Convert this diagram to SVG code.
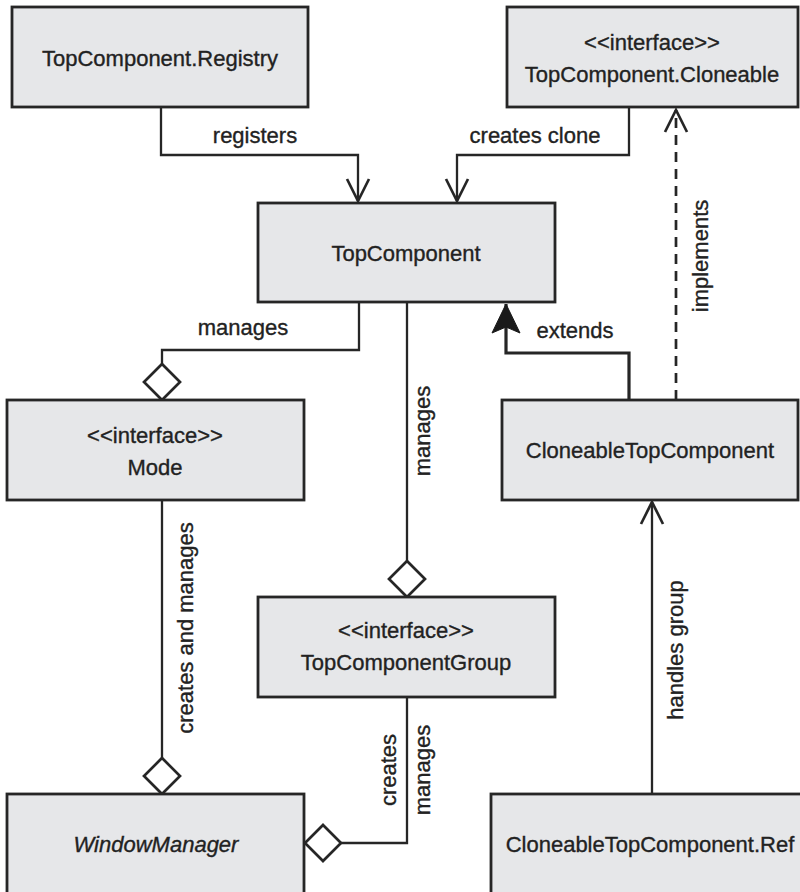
<svg xmlns="http://www.w3.org/2000/svg" width="800" height="892" viewBox="0 0 800 892">
<style>
.box{fill:#e6e7e9;stroke:#262626;stroke-width:2.8}
.t{font-family:"Liberation Sans",Arial,sans-serif;font-size:22px;fill:#222;stroke:#222;stroke-width:0.35;text-anchor:middle}
.it{font-style:italic}
.ln{fill:none;stroke:#262626;stroke-width:2.3}
.thick{stroke-width:3.2}
.dash{stroke-width:2.7;stroke-dasharray:10 7}
.open{marker-end:url(#open)}
.dia{marker-end:url(#diamond)}
.tri{marker-end:url(#tri)}
</style>
<defs>
<marker id="open" markerUnits="userSpaceOnUse" viewBox="-26 -14 30 28" refX="0" refY="0" markerWidth="30" markerHeight="28" orient="auto" overflow="visible">
<path d="M-22,-11 L0,0 L-22,11" fill="none" stroke="#262626" stroke-width="2.7" stroke-dasharray="none"/>
</marker>
<marker id="diamond" markerUnits="userSpaceOnUse" viewBox="-40 -20 42 40" refX="0" refY="0" markerWidth="42" markerHeight="40" orient="auto" overflow="visible">
<path d="M0,0 L-18,-18 L-36,0 L-18,18 Z" fill="#fff" stroke="#262626" stroke-width="2.7"/>
</marker>
<marker id="tri" markerUnits="userSpaceOnUse" viewBox="-32 -16 34 32" refX="0" refY="0" markerWidth="34" markerHeight="32" orient="auto" overflow="visible">
<path d="M0,0 L-29,-14 L-23,0 L-29,14 Z" fill="#1a1a1a" stroke="#1a1a1a" stroke-width="1"/>
</marker>
</defs>
<g id="connectors">
<path class="ln open" d="M161,107 V155 H358 V201"/>
<path class="ln open" d="M629,107 V155 H457 V201"/>
<path class="ln dash open" d="M676,400 V110"/>
<path class="ln dia" d="M359,302 V350 H162 V400"/>
<path class="ln thick tri" d="M629,400 V353 H506 V304"/>
<path class="ln dia" d="M407,302 V597"/>
<path class="ln dia" d="M162,500 V794"/>
<path class="ln dia" d="M407,697 V843 H305"/>
<path class="ln open" d="M652,794 V502"/>
<text class="t" x="255" y="143">registers</text>
<text class="t" x="535" y="143">creates clone</text>
<text class="t" x="243" y="335">manages</text>
<text class="t" x="575" y="338">extends</text>
<text class="t" transform="translate(708,256) rotate(-90)">implements</text>
<text class="t" transform="translate(430,431) rotate(-90)">manages</text>
<text class="t" transform="translate(193,628) rotate(-90)">creates and manages</text>
<text class="t" transform="translate(396,770) rotate(-90)">creates</text>
<text class="t" transform="translate(430,770) rotate(-90)">manages</text>
<text class="t" transform="translate(683,650) rotate(-90)">handles group</text>
</g>
<g id="registry">
<rect class="box" x="12" y="7" width="296" height="100"/>
<text class="t" x="160" y="66">TopComponent.Registry</text>
</g>
<g id="cloneable">
<rect class="box" x="507" y="7" width="291" height="100"/>
<text class="t" x="652" y="50">&lt;&lt;interface&gt;&gt;</text>
<text class="t" x="652" y="82">TopComponent.Cloneable</text>
</g>
<g id="topcomponent">
<rect class="box" x="258" y="203" width="297" height="99"/>
<text class="t" x="406" y="261">TopComponent</text>
</g>
<g id="mode">
<rect class="box" x="7" y="400" width="297" height="100"/>
<text class="t" x="155" y="443">&lt;&lt;interface&gt;&gt;</text>
<text class="t" x="155" y="475">Mode</text>
</g>
<g id="cloneabletopcomponent">
<rect class="box" x="502" y="400" width="296" height="100"/>
<text class="t" x="650" y="458">CloneableTopComponent</text>
</g>
<g id="topcomponentgroup">
<rect class="box" x="258" y="597" width="297" height="100"/>
<text class="t" x="406" y="638">&lt;&lt;interface&gt;&gt;</text>
<text class="t" x="406" y="670">TopComponentGroup</text>
</g>
<g id="windowmanager">
<rect class="box" x="7" y="794" width="297" height="110"/>
<text class="t it" x="156" y="852">WindowManager</text>
</g>
<g id="ref">
<rect class="box" x="491" y="794" width="320" height="110"/>
<text class="t" x="650" y="852">CloneableTopComponent.Ref</text>
</g>
</svg>
